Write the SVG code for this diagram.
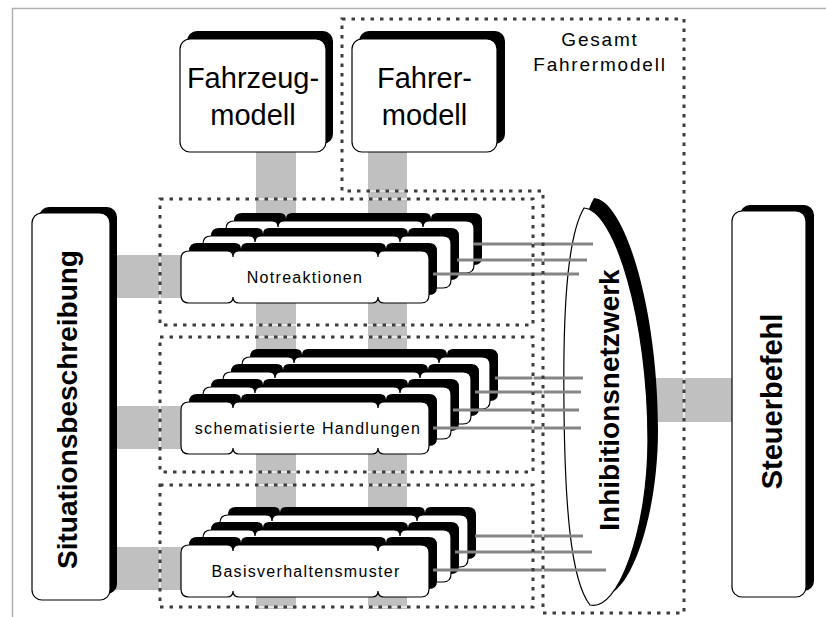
<svg xmlns="http://www.w3.org/2000/svg" width="826" height="617" viewBox="0 0 826 617">
<style>
.pipe{fill:#c0c0c0}
.box{fill:#fff;stroke:#000;stroke-width:1.2}
.sh{fill:#000}
.dw{fill:none;stroke:#fff;stroke-width:1.2}
.dd{fill:none;stroke:#3c3c3c;stroke-width:3;stroke-dasharray:3.5 6}
.inh{stroke:#858585;stroke-width:3;fill:none}
.big{font-family:"Liberation Sans",Arial,sans-serif;font-size:29px;text-anchor:middle;fill:#000}
.bold{font-family:"Liberation Sans",Arial,sans-serif;font-size:28px;font-weight:bold;text-anchor:middle;fill:#000}
.lbl{font-family:"Liberation Sans",Arial,sans-serif;font-size:16px;letter-spacing:1.3px;text-anchor:middle;fill:#000}
.gs{font-family:"Liberation Sans",Arial,sans-serif;font-size:19px;letter-spacing:1.8px;text-anchor:middle;fill:#000}
</style>
<defs>
<path id="cardp" d="M8,0 H46 Q52,0 52,6 Q52,0 58,0 H191 Q197,0 197,6 Q197,0 203,0 H240 Q248,0 248,8 V44 Q248,52 240,52 H203 Q197,52 197,46 Q197,52 191,52 H58 Q52,52 52,46 Q52,52 46,52 H8 Q0,52 0,44 V8 Q0,0 8,0 Z"/>
<g id="card">
<use href="#cardp" class="sh" transform="translate(8,-8)"/>
<use href="#cardp" class="box"/>
</g>
<path id="ellp" d="M584,208 C565,240 563,330 564,410 C565,500 570,580 590,605 C618,612 648,530 648,440 C648,320 615,210 584,208 Z"/>
</defs>

<g id="frame" stroke="#b0b0b0" stroke-width="1.5" fill="none">
<line x1="12" y1="8.5" x2="826" y2="8.5"/>
<line x1="12.5" y1="8" x2="12.5" y2="617"/>
</g>

<g id="connectors-pipes">
<rect class="pipe" x="256" y="150" width="40" height="459"/>
<rect class="pipe" x="368" y="150" width="39" height="459"/>
<rect class="pipe" x="112" y="255" width="72" height="43"/>
<rect class="pipe" x="112" y="406" width="72" height="43"/>
<rect class="pipe" x="112" y="547" width="72" height="43"/>
<rect class="pipe" x="640" y="378" width="94" height="44"/>
</g>

<g id="inhibitionsnetzwerk">
<use href="#ellp" class="sh" transform="translate(10,-10)"/>
<use href="#ellp" class="box"/>
</g>

<g id="notreaktionen">
<use href="#card" x="226" y="221"/>
<use href="#card" x="203" y="236"/>
<use href="#card" x="181" y="251"/>
<text class="lbl" x="305" y="283">Notreaktionen</text>
</g>

<g id="schematisierte-handlungen">
<use href="#card" x="242" y="357"/>
<use href="#card" x="223" y="372"/>
<use href="#card" x="203" y="387"/>
<use href="#card" x="181" y="402"/>
<text class="lbl" x="308" y="434">schematisierte Handlungen</text>
</g>

<g id="basisverhaltensmuster">
<use href="#card" x="220" y="515"/>
<use href="#card" x="203" y="530"/>
<use href="#card" x="181" y="545"/>
<text class="lbl" x="306" y="577">Basisverhaltensmuster</text>
</g>

<g id="connectors-inhibition" class="inh">
<line x1="473" y1="244" x2="593" y2="244"/>
<line x1="457" y1="260" x2="587" y2="260"/>
<line x1="433" y1="274" x2="579" y2="274"/>
<line x1="495" y1="378" x2="583" y2="378"/>
<line x1="475" y1="392" x2="581" y2="392"/>
<line x1="453" y1="410" x2="579" y2="410"/>
<line x1="433" y1="428" x2="581" y2="428"/>
<line x1="475" y1="536" x2="583" y2="536"/>
<line x1="455" y1="552" x2="592" y2="552"/>
<line x1="433" y1="570" x2="606" y2="570"/>
</g>

<g id="gesamt-fahrermodell">
<path class="dw" d="M342,19 H684 V613 H543 V191 H342 Z"/>
<path class="dd" d="M342,19 H684 V613 H543 V191 H342 Z"/>
<text class="gs" x="600" y="46">Gesamt</text>
<text class="gs" x="600" y="71">Fahrermodell</text>
</g>

<g id="ebenen">
<rect class="dw" x="160" y="199" width="373" height="126"/>
<rect class="dd" x="160" y="199" width="373" height="126"/>
<rect class="dw" x="160" y="337" width="373" height="135"/>
<rect class="dd" x="160" y="337" width="373" height="135"/>
<rect class="dw" x="160" y="485" width="373" height="122"/>
<rect class="dd" x="160" y="485" width="373" height="122"/>
</g>

<g id="fahrzeugmodell">
<rect class="sh" x="187" y="31" width="146" height="113" rx="10"/>
<rect class="box" x="180" y="39" width="146" height="113" rx="10"/>
<text class="big" x="253" y="88">Fahrzeug-</text>
<text class="big" x="253" y="125">modell</text>
</g>

<g id="fahrermodell">
<rect class="sh" x="359" y="31" width="146" height="113" rx="10"/>
<rect class="box" x="352" y="39" width="145" height="113" rx="10"/>
<text class="big" x="424.5" y="88">Fahrer-</text>
<text class="big" x="424.5" y="125">modell</text>
</g>

<g id="situationsbeschreibung">
<rect class="sh" x="39" y="207" width="78" height="387" rx="10"/>
<rect class="box" x="32" y="213" width="78" height="387" rx="10"/>
<text class="bold" transform="translate(77,409.5) rotate(-90)">Situationsbeschreibung</text>
</g>

<g id="steuerbefehl">
<rect class="sh" x="740" y="205" width="74" height="386" rx="10"/>
<rect class="box" x="732" y="211" width="74" height="386" rx="10"/>
<text class="bold" style="font-size:29px" transform="translate(782,401.5) rotate(-90)">Steuerbefehl</text>
</g>

<g id="inhibitionsnetzwerk-label">
<text class="bold" transform="translate(619,400) rotate(-90)">Inhibitionsnetzwerk</text>
</g>
</svg>
